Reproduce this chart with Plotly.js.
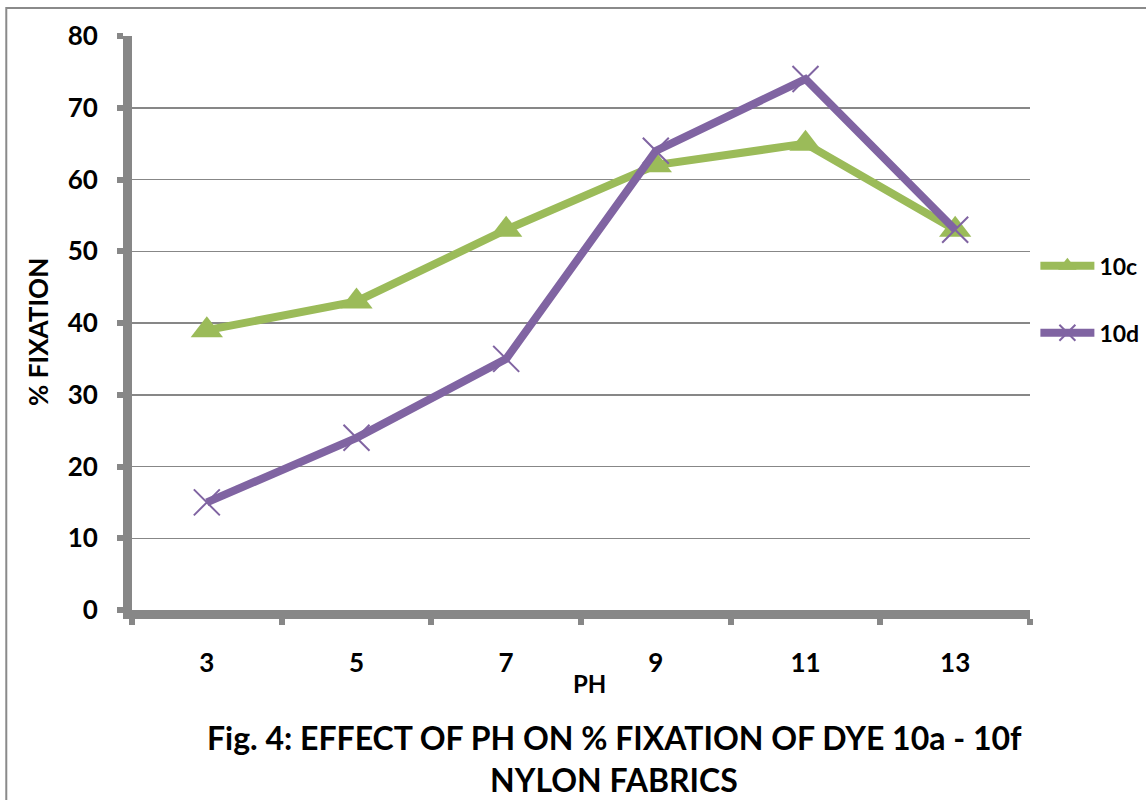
<!DOCTYPE html>
<html>
<head>
<meta charset="utf-8">
<script src="https://cdn.plot.ly/plotly-3.0.1.min.js"></script>
<style>html,body{margin:0;padding:0;background:#fff;}#chart{width:1146px;height:800px;}</style>
</head>
<body>
<div id="chart"></div>
<script>
const phLabels = ['3', '5', '7', '9', '11', '13'];
const fix10c = [39, 43, 53, 62, 65, 53];
const fix10d = [15, 24, 35, 64, 74, 53];
const yTicks = [0, 10, 20, 30, 40, 50, 60, 70, 80];

const FONT = 'Lato, "Open Sans", sans-serif';
const GRAY = '#878787';

const traces = [
  {
    x: phLabels, y: fix10c, name: '10c', type: 'scatter', mode: 'lines+markers',
    legendgroup: 'a',
    line: {color: '#9BBB59', width: 8},
    marker: {symbol: 'triangle-up', size: 28, color: '#9BBB59'}
  },
  {
    x: phLabels, y: fix10d, name: '10d', type: 'scatter', mode: 'lines+markers',
    legendgroup: 'b',
    line: {color: '#8064A2', width: 8},
    marker: {symbol: 'x-thin-open', size: 26, color: '#8064A2', line: {color: '#8064A2', width: 2}}
  }
];

const layout = {
  width: 1146, height: 800,
  margin: {l: 132, r: 116, t: 36, b: 190, autoexpand: false},
  paper_bgcolor: '#fff', plot_bgcolor: '#fff',
  font: {family: FONT, color: '#000', size: 24, weight: 'bold'},
  showlegend: true,
  legend: {
    x: 1.006, y: 0.637, xanchor: 'left', yanchor: 'top',
    traceorder: 'grouped', tracegroupgap: 34, itemwidth: 54,
    font: {family: FONT, size: 23, color: '#000', weight: 'bold'},
    bgcolor: 'rgba(0,0,0,0)'
  },
  xaxis: {
    type: 'category', range: [-0.5, 5.5],
    showline: true, linecolor: GRAY, linewidth: 9,
    ticks: 'outside', tickson: 'boundaries', tickcolor: GRAY, tickwidth: 6, ticklen: 6,
    showgrid: false, zeroline: false,
    tickfont: {family: FONT, size: 26, color: '#000', weight: 'bold'},
    ticklabelstandoff: 22,
    fixedrange: true
  },
  yaxis: {
    range: [0, 80], tickvals: yTicks, ticktext: yTicks.map(String),
    showline: true, linecolor: GRAY, linewidth: 9,
    ticks: 'outside', tickcolor: GRAY, tickwidth: 6, ticklen: 6,
    showgrid: true, gridcolor: GRAY, gridwidth: 1.5, zeroline: false,
    tickfont: {family: FONT, size: 26, color: '#000', weight: 'bold'},
    ticklabelstandoff: 14,
    fixedrange: true
  },
  shapes: [
    {type: 'rect', xref: 'paper', yref: 'paper', x0: -0.14, x1: 1.5, y0: -0.6, y1: 1.0488,
     line: {color: '#8a8a8a', width: 2}, fillcolor: 'rgba(0,0,0,0)', layer: 'below'}
  ],
  annotations: [
    {xref: 'paper', yref: 'paper', x: 0.51, y: -0.128, xanchor: 'center', yanchor: 'middle',
     text: 'PH', showarrow: false,
     font: {family: FONT, size: 24, color: '#000', weight: 'bold'}},
    {xref: 'paper', yref: 'paper', x: -0.105, y: 0.484, xanchor: 'center', yanchor: 'middle',
     text: '% FIXATION', showarrow: false, textangle: -90,
     font: {family: FONT, size: 26, color: '#000', weight: 'bold'}},
    {xref: 'paper', yref: 'paper', x: 0.537, y: -0.222, xanchor: 'center', yanchor: 'middle',
     text: 'Fig. 4: EFFECT OF PH ON % FIXATION OF DYE 10a - 10f', showarrow: false,
     font: {family: FONT, size: 32, color: '#000', weight: 'bold'}},
    {xref: 'paper', yref: 'paper', x: 0.537, y: -0.295, xanchor: 'center', yanchor: 'middle',
     text: 'NYLON FABRICS', showarrow: false,
     font: {family: FONT, size: 32, color: '#000', weight: 'bold'}}
  ]
};

Plotly.newPlot('chart', traces, layout, {displayModeBar: false, staticPlot: true});
</script>
</body>
</html>
